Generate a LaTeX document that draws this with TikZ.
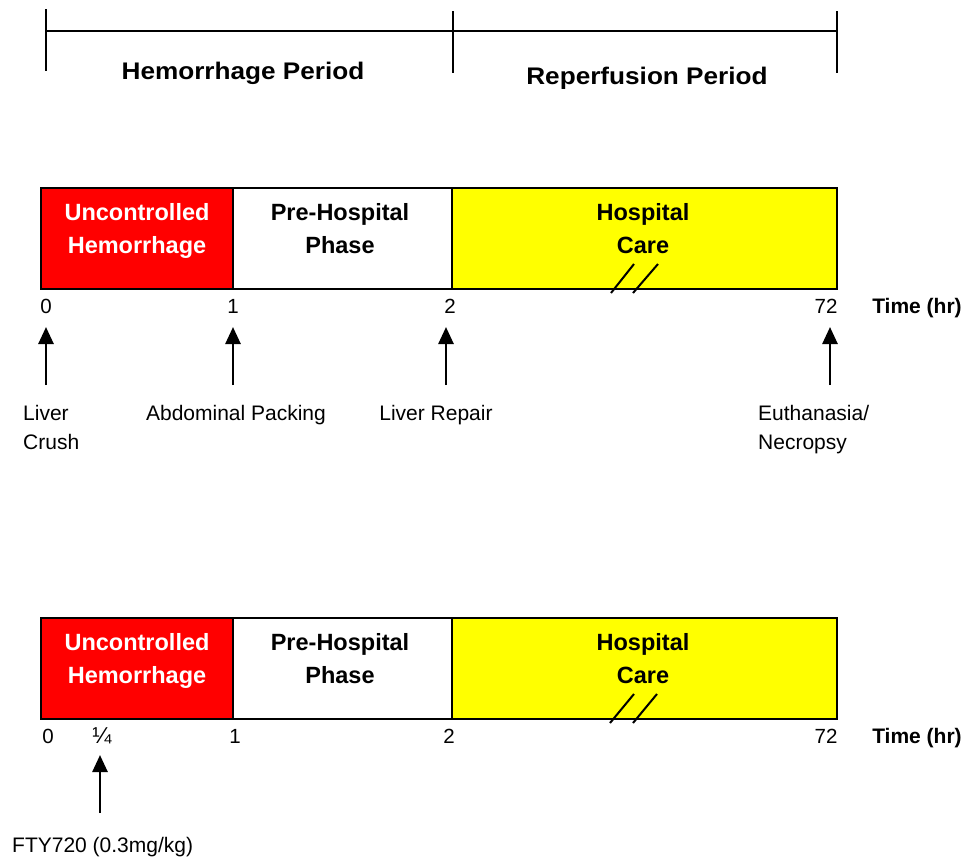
\documentclass[tikz,border=0pt]{standalone}
\usepackage{fontspec}
\setmainfont{Liberation Sans}
\usetikzlibrary{arrows.meta}
\definecolor{barred}{RGB}{255,0,0}
\definecolor{baryellow}{RGB}{255,255,0}
\begin{document}
\begin{tikzpicture}[x=1pt,y=-1pt,
  brk/.style={line width=2pt},
  bar/.style={draw=black,line width=2pt},
  head/.style={font=\fontsize{24}{28}\selectfont\bfseries, anchor=base, inner sep=0},
  phase/.style={font=\fontsize{23.5}{33}\selectfont\bfseries, align=center, anchor=north, inner sep=0},
  tick/.style={font=\fontsize{20.5}{24}\selectfont, anchor=base, inner sep=0},
  timelab/.style={font=\fontsize{21}{25}\selectfont\bfseries, anchor=base, inner sep=0},
  evlab/.style={font=\fontsize{21}{29}\selectfont, inner sep=0},
  evarrow/.style={line width=2.6pt, -{Triangle[width=15pt,length=17pt]}},
  brkslash/.style={line width=2pt}
]
\useasboundingbox (0,0) rectangle (962,860);

% ---- header bracket ----
\coordinate (hL) at (46,31);
\coordinate (hR) at (837,31);
\coordinate (tLa) at (46,9);   \coordinate (tLb) at (46,71);
\coordinate (tMa) at (453,11); \coordinate (tMb) at (453,73);
\coordinate (tRa) at (837,11); \coordinate (tRb) at (837,73);
\draw[brk] (hL) -- (hR);
\draw[brk] (tLa) -- (tLb);
\draw[brk] (tMa) -- (tMb);
\draw[brk] (tRa) -- (tRb);
\node[head] (hp) at (243,79) {\scalebox{1.09}[1]{Hemorrhage Period}};
\node[head] (rp) at (647,84) {\scalebox{1.09}[1]{Reperfusion Period}};

% ---- timeline 1 ----
\draw[bar, fill=barred] (41,188) rectangle (233,289);
\draw[bar, fill=white] (233,188) rectangle (452,289);
\draw[bar, fill=baryellow] (452,188) rectangle (837,289);
\node[phase, text=white] (uh1) at (137,203) {Uncontrolled\\Hemorrhage};
\node[phase] (ph1) at (340,203) {Pre-Hospital\\Phase};
\node[phase] (hc1) at (643,203) {Hospital\\Care};
\draw[brkslash] (611,293) -- (634,264);
\draw[brkslash] (633,293) -- (658,264);
\node[tick] (t10) at (46,313) {0};
\node[tick] (t11) at (233,313) {1};
\node[tick] (t12) at (450,313) {2};
\node[tick] (t172) at (826,313) {72};
\node[timelab] (tm1) at (917,313) {Time (hr)};

\coordinate (a0b) at (46,385);  \coordinate (a0t) at (46,327);
\coordinate (a1b) at (233,385); \coordinate (a1t) at (233,327);
\coordinate (a2b) at (446,385); \coordinate (a2t) at (446,327);
\coordinate (a3b) at (830,385); \coordinate (a3t) at (830,327);
\draw[evarrow] (a0b) -- (a0t);
\draw[evarrow] (a1b) -- (a1t);
\draw[evarrow] (a2b) -- (a2t);
\draw[evarrow] (a3b) -- (a3t);
\node[evlab, align=left, anchor=north west] (lc) at (23,405) {Liver\\Crush};
\node[evlab, anchor=base] (ap) at (236,420) {Abdominal Packing};
\node[evlab, anchor=base] (lr) at (436,420) {Liver Repair};
\node[evlab, align=left, anchor=north west] (en) at (758,405) {Euthanasia/\\Necropsy};

% ---- timeline 2 ----
\draw[bar, fill=barred] (41,618) rectangle (233,719);
\draw[bar, fill=white] (233,618) rectangle (452,719);
\draw[bar, fill=baryellow] (452,618) rectangle (837,719);
\node[phase, text=white] (uh2) at (137,633) {Uncontrolled\\Hemorrhage};
\node[phase] (ph2) at (340,633) {Pre-Hospital\\Phase};
\node[phase] (hc2) at (643,633) {Hospital\\Care};
\draw[brkslash] (610,723) -- (634,694);
\draw[brkslash] (633,723) -- (657,694);
\node[tick] (t20) at (48,743) {0};
\node[tick, font=\fontsize{23}{26}\selectfont] (t2q) at (102,743) {¼};
\node[tick] (t21) at (235,743) {1};
\node[tick] (t22) at (449,743) {2};
\node[tick] (t272) at (826,743) {72};
\node[timelab] (tm2) at (917,743) {Time (hr)};

\coordinate (fb) at (100,813); \coordinate (ft) at (100,755);
\draw[evarrow] (fb) -- (ft);
\node[evlab, anchor=base west] (fty) at (12,852) {FTY720 (0.3mg/kg)};
\end{tikzpicture}
\end{document}
